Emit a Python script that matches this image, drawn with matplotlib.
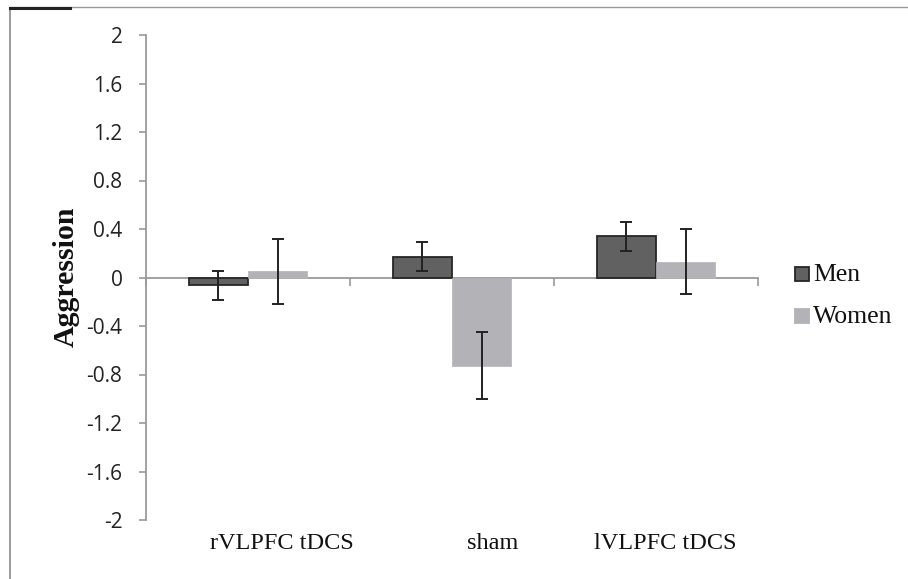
import numpy as np
import matplotlib
matplotlib.use("Agg")
import matplotlib.pyplot as plt
from matplotlib.lines import Line2D
from matplotlib.patches import Rectangle

# data
groups = ["rVLPFC tDCS", "sham", "lVLPFC tDCS"]
men = [-0.065, 0.17, 0.34]
men_err = [0.12, 0.12, 0.12]
women = [0.05, -0.727, 0.13]
women_err = [0.27, 0.275, 0.27]
yticks = [2, 1.6, 1.2, 0.8, 0.4, 0, -0.4, -0.8, -1.2, -1.6, -2]
ytick_labels = ["2", "1.6", "1.2", "0.8", "0.4", "0", "-0.4", "-0.8", "-1.2", "-1.6", "-2"]

W, H = 908, 579
fig = plt.figure(figsize=(W/100, H/100), dpi=100)
ax = fig.add_axes([146/W, 1 - 520/H, 612/W, 485/H])

x = np.arange(len(groups))
w = 0.29
men_col = "#616161"
women_col = "#b3b3b7"

ax.bar(x - w/2, men, w, color=men_col, edgecolor="#262626", linewidth=1.3, zorder=2)
ax.bar(x + w/2, women, w, color=women_col, edgecolor=women_col, linewidth=0.5, zorder=2)
ax.errorbar(x - w/2, men, yerr=men_err, fmt="none", ecolor="#222222",
            elinewidth=1.4, capsize=4, capthick=1.4, zorder=3)
ax.errorbar(x + w/2, women, yerr=women_err, fmt="none", ecolor="#222222",
            elinewidth=1.4, capsize=4, capthick=1.4, zorder=3)

ax.set_xlim(-0.5, 2.5)
ax.set_ylim(-2, 2)

axis_col = "#9a9a9a"
for s in ["top", "right"]:
    ax.spines[s].set_visible(False)
ax.spines["left"].set_color(axis_col)
ax.spines["left"].set_linewidth(1.3)
ax.spines["bottom"].set_position(("data", 0))
ax.spines["bottom"].set_color(axis_col)
ax.spines["bottom"].set_linewidth(1.3)
ax.spines["bottom"].set_zorder(1)

ax.set_yticks(yticks)
ax.set_yticklabels(ytick_labels, fontsize=15, family="Open Sans", color="#222222")
ax.tick_params(axis="y", direction="out", length=5, width=1.2, color=axis_col, pad=12)

ax.set_xticks([-0.5, 0.5, 1.5, 2.5])
ax.set_xticklabels([])
ax.tick_params(axis="x", direction="out", length=6, width=1.2, color=axis_col)

# category labels sit below the plot, slightly right of centre as in the original
label_x = [0.164, 1.20, 2.044]
for lx, g in zip(label_x, groups):
    ax.text(lx, -2.19, g, ha="center", va="center", fontsize=17.5,
            family="Liberation Serif", color="#111111", clip_on=False)

fig.text(66/W, 1 - 277/H, "Aggression", rotation=90, ha="center", va="center",
         fontsize=21.5, fontweight="bold", family="Liberation Serif", color="#111111")

# legend, drawn by hand to sit where the original has it
leg_items = [("Men", men_col, "#262626", 274), ("Women", women_col, women_col, 316)]
for name, fc, ec, yc in leg_items:
    fig.add_artist(Rectangle(((795)/W, 1 - (yc + 7)/H), 14/W, 14/H,
                             facecolor=fc, edgecolor=ec, linewidth=1.3,
                             transform=fig.transFigure))
    fig.text(813/W, 1 - (yc + 1)/H, name, ha="left", va="center",
             fontsize=18.5, family="Liberation Serif", color="#111111")

# outer frame fragments
fig.add_artist(Line2D([10/W, 10/W], [0, 1 - 8/H], color="#8a8a8a", lw=1.2))
fig.add_artist(Line2D([10/W, 1], [1 - 7/H, 1 - 7/H], color="#9a9a9a", lw=1.0))
fig.add_artist(Line2D([10/W, 70/W], [1 - 8/H, 1 - 8/H], color="#222222", lw=2.2))

fig.savefig("out.png", dpi=100)
